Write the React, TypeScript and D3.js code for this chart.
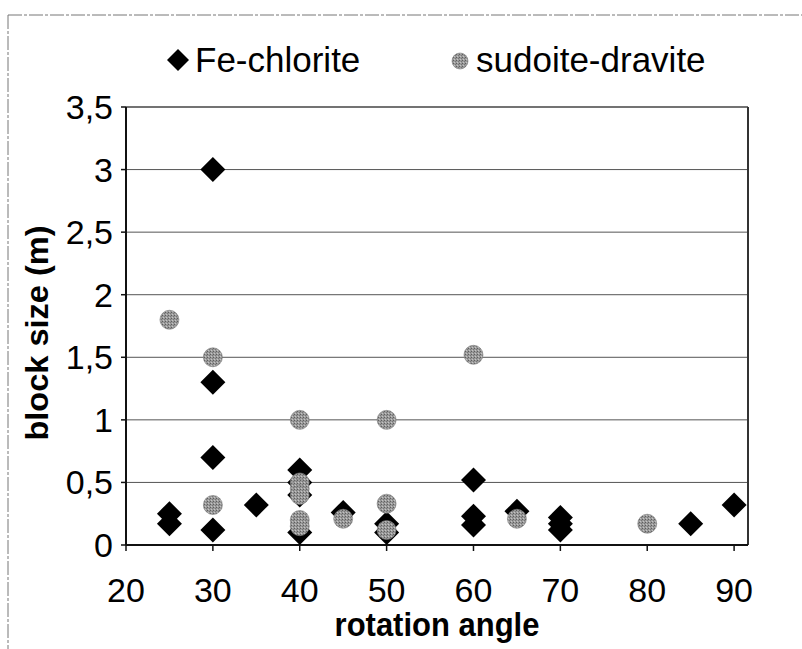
import React from "react";
import * as d3 from "d3";

// Fe-chlorite (diamonds)
const feAngle = [25, 25, 30, 30, 30, 30, 35, 40, 40, 40, 40, 45, 50, 50, 60, 60, 60, 65, 70, 70, 70, 85, 90];
const feSize = [0.25, 0.17, 3.0, 1.3, 0.7, 0.12, 0.32, 0.6, 0.5, 0.4, 0.1, 0.26, 0.17, 0.1, 0.52, 0.23, 0.16, 0.27, 0.22, 0.17, 0.12, 0.17, 0.32];

// sudoite-dravite (grey dots)
const sdAngle = [25, 30, 30, 40, 40, 40, 40, 40, 40, 45, 50, 50, 50, 60, 65, 80];
const sdSize = [1.8, 1.5, 0.32, 1.0, 0.5, 0.45, 0.4, 0.2, 0.15, 0.21, 1.0, 0.33, 0.12, 1.52, 0.21, 0.17];

const xTicks = [20, 30, 40, 50, 60, 70, 80, 90];
const yTicks = [0, 0.5, 1, 1.5, 2, 2.5, 3, 3.5];
const seriesNames = ["Fe-chlorite", "sudoite-dravite"];

const App = () => {
  const width = 802;
  const height = 649;
  const plot = { left: 126, right: 748, top: 107, bottom: 545 };

  const x = d3.scaleLinear().domain([20, 91.6]).range([plot.left, plot.right]);
  const y = d3.scaleLinear().domain([0, 3.5]).range([plot.bottom, plot.top]);

  const fmt = (v: number) => String(v).replace(".", ",");
  const font = "'Liberation Sans', Arial, sans-serif";
  const dia = 12.5;
  const diamond = (cx: number, cy: number, h: number) =>
    `M${cx},${cy - h}L${cx + h},${cy}L${cx},${cy + h}L${cx - h},${cy}Z`;

  const fe = feAngle.map((a, i) => ({ a, s: feSize[i] }));
  const sd = sdAngle.map((a, i) => ({ a, s: sdSize[i] }));

  return (
    <svg
      width={width}
      height={height}
      style={{ position: "absolute", left: 0, top: 0, background: "#fff" }}
    >
      <defs>
        <pattern id="dots" width="3" height="3" patternUnits="userSpaceOnUse">
          <rect width="3" height="3" fill="#9a9a9a" />
          <rect width="1" height="1" fill="#5e5e5e" />
          <rect x="2" y="1" width="1" height="1" fill="#777" />
          <rect x="1" y="2" width="1" height="1" fill="#c4c4c4" />
        </pattern>
      </defs>

      {/* outer chart frame */}
      <line x1={8} y1={15} x2={width} y2={15} stroke="#777" strokeDasharray="14 2 3 2" />
      <line x1={8} y1={15} x2={8} y2={height} stroke="#777" strokeDasharray="14 2 3 2" />

      {/* gridlines */}
      {yTicks.slice(1, -1).map((t) => (
        <line key={t} x1={plot.left} x2={plot.right} y1={y(t)} y2={y(t)} stroke="#555" strokeWidth={1} />
      ))}

      {/* plot area border */}
      <line x1={plot.left} x2={plot.right} y1={plot.top} y2={plot.top} stroke="#444" strokeWidth={1.5} />
      <line x1={plot.right} x2={plot.right} y1={plot.top} y2={plot.bottom} stroke="#333" strokeWidth={2} />

      {/* axes */}
      <line x1={plot.left} x2={plot.left} y1={plot.top} y2={plot.bottom} stroke="#111" strokeWidth={2} />
      <line x1={plot.left} x2={plot.right} y1={plot.bottom} y2={plot.bottom} stroke="#111" strokeWidth={2} />
      {yTicks.map((t) => (
        <g key={t}>
          <line x1={plot.left - 5} x2={plot.left} y1={y(t)} y2={y(t)} stroke="#111" strokeWidth={1.5} />
          <text
            x={plot.left - 13}
            y={y(t) + 12}
            textAnchor="end"
            fontFamily={font}
            fontSize={34}
          >
            {fmt(t)}
          </text>
        </g>
      ))}
      {xTicks.map((t) => (
        <g key={t}>
          <line x1={x(t)} x2={x(t)} y1={plot.bottom} y2={plot.bottom + 6} stroke="#111" strokeWidth={1.5} />
          <text
            x={x(t)}
            y={plot.bottom + 57}
            textAnchor="middle"
            fontFamily={font}
            fontSize={34}
          >
            {t}
          </text>
        </g>
      ))}

      {/* axis titles */}
      <text
        transform={`translate(${(plot.left + plot.right) / 2},${636}) scale(1,1.05)`}
        textAnchor="middle"
        fontFamily={font}
        fontWeight="bold"
        fontSize={31}
      >
        rotation angle
      </text>
      <text
        transform={`translate(${48},${333}) rotate(-90) scale(1.05,1)`}
        textAnchor="middle"
        fontFamily={font}
        fontWeight="bold"
        fontSize={31}
      >
        block size (m)
      </text>

      {/* Fe-chlorite */}
      {fe.map((d, i) => (
        <path key={`fe${i}`} d={diamond(x(d.a), y(d.s), dia)} fill="#000" />
      ))}

      {/* sudoite-dravite */}
      {sd.map((d, i) => (
        <circle key={`sd${i}`} cx={x(d.a)} cy={y(d.s)} r={9.5} fill="url(#dots)" stroke="#7a7a7a" strokeWidth={0.6} />
      ))}

      {/* legend */}
      <path d={diamond(178, 60, 11)} fill="#000" />
      <text x={195} y={72} fontFamily={font} fontSize={35}>
        {seriesNames[0]}
      </text>
      <circle cx={460} cy={61} r={8} fill="url(#dots)" stroke="#7a7a7a" strokeWidth={0.6} />
      <text x={476} y={72} fontFamily={font} fontSize={35}>
        {seriesNames[1]}
      </text>
    </svg>
  );
};

export default App;
